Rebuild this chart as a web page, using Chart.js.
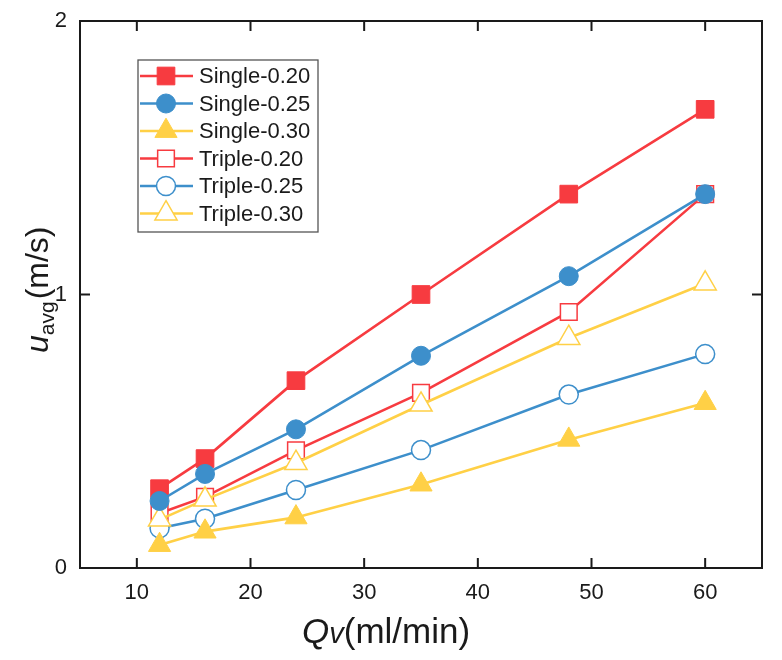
<!DOCTYPE html>
<html>
<head>
<meta charset="utf-8">
<script src="https://cdn.jsdelivr.net/npm/chart.js"></script>
<style>
  body { margin: 0; background: #fff; }
</style>
</head>
<body>
<canvas id="flowChart" width="782" height="660"></canvas>
<script>
const flowRates = [12, 16, 24, 35, 48, 60];
const single020 = [0.29, 0.40, 0.685, 1.00, 1.367, 1.677];
const single025 = [0.245, 0.344, 0.507, 0.776, 1.067, 1.367];
const single030 = [0.084, 0.133, 0.185, 0.305, 0.469, 0.603];
const triple020 = [0.20, 0.26, 0.43, 0.64, 0.936, 1.367];
const triple025 = [0.145, 0.18, 0.285, 0.431, 0.634, 0.782];
const triple030 = [0.177, 0.25, 0.384, 0.597, 0.841, 1.04];
const xTickValues = [10, 20, 30, 40, 50, 60];
const yTickValues = [0, 1, 2];

const RED = "#F73B40";
const BLUE = "#3D8FCB";
const YELLOW = "#FFD046";
const FONT = "'Liberation Sans', Arial, sans-serif";

function makeSeries(label, values, color, shape, hollow, order) {
    const radius = shape === "circle" ? 9.5 : (shape === "rect" ? (hollow ? 11.8 : 12.5) : 12.8);
    return {
        label: label,
        data: flowRates.map((q, i) => ({ x: q, y: values[i] })),
        borderColor: color,
        backgroundColor: color,
        borderWidth: 2.6,
        pointStyle: shape,
        pointRadius: radius,
        pointHoverRadius: radius,
        pointBackgroundColor: hollow ? "#ffffff" : color,
        pointBorderColor: color,
        pointBorderWidth: hollow ? 1.5 : 1,
        tension: 0,
        order: order
    };
}

const datasets = [
    makeSeries("Single-0.20", single020, RED, "rect", false, 3),
    makeSeries("Single-0.25", single025, BLUE, "circle", false, 2),
    makeSeries("Single-0.30", single030, YELLOW, "triangle", false, 1),
    makeSeries("Triple-0.20", triple020, RED, "rect", true, 6),
    makeSeries("Triple-0.25", triple025, BLUE, "circle", true, 5),
    makeSeries("Triple-0.30", triple030, YELLOW, "triangle", true, 4)
];

function drawMarker(ctx, shape, r, x, y) {
    ctx.beginPath();
    if (shape === "rect") {
        const s = Math.SQRT1_2 * r;
        ctx.rect(x - s, y - s, 2 * s, 2 * s);
    } else if (shape === "circle") {
        ctx.arc(x, y, r, 0, Math.PI * 2);
    } else {
        ctx.moveTo(x, y - r);
        ctx.lineTo(x + r * Math.cos(Math.PI / 6), y + r / 2);
        ctx.lineTo(x - r * Math.cos(Math.PI / 6), y + r / 2);
        ctx.closePath();
    }
    ctx.fill();
    ctx.stroke();
}

// frame with inward ticks, axis titles and the boxed legend
const decorations = {
    id: "decorations",
    afterDraw(chart) {
        const { ctx, chartArea: a, scales: { x, y } } = chart;
        ctx.save();
        ctx.strokeStyle = "#1a1a1a";
        ctx.lineWidth = 2;
        ctx.strokeRect(a.left, a.top, a.right - a.left, a.bottom - a.top);
        ctx.beginPath();
        xTickValues.forEach(v => {
            const px = x.getPixelForValue(v);
            ctx.moveTo(px, a.bottom); ctx.lineTo(px, a.bottom - 10);
            ctx.moveTo(px, a.top); ctx.lineTo(px, a.top + 10);
        });
        yTickValues.forEach(v => {
            const py = y.getPixelForValue(v);
            ctx.moveTo(a.left, py); ctx.lineTo(a.left + 10, py);
            ctx.moveTo(a.right, py); ctx.lineTo(a.right - 10, py);
        });
        ctx.stroke();

        // x title: Qv(ml/min)
        ctx.fillStyle = "#1a1a1a";
        ctx.textBaseline = "alphabetic";
        ctx.textAlign = "left";
        let tx = 302;
        const ty = 643;
        ctx.font = "italic 35px " + FONT;
        ctx.fillText("Q", tx, ty);
        tx += ctx.measureText("Q").width;
        ctx.font = "italic 29px " + FONT;
        ctx.fillText("v", tx, ty);
        tx += ctx.measureText("v").width;
        ctx.font = "35px " + FONT;
        ctx.fillText("(ml/min)", tx, ty);

        // y title: u_avg(m/s)
        ctx.save();
        ctx.translate(48, 353);
        ctx.rotate(-Math.PI / 2);
        let ux = 0;
        ctx.font = "italic 32px " + FONT;
        ctx.fillText("u", ux, 0);
        ux += ctx.measureText("u").width;
        ctx.font = "21px " + FONT;
        ctx.fillText("avg", ux, 6);
        ux += ctx.measureText("avg").width + 2;
        ctx.font = "32px " + FONT;
        ctx.fillText("(m/s)", ux, 0);
        ctx.restore();

        // legend
        const box = { left: 138, top: 60, right: 318, bottom: 232 };
        ctx.fillStyle = "#ffffff";
        ctx.fillRect(box.left, box.top, box.right - box.left, box.bottom - box.top);
        ctx.strokeStyle = "#555555";
        ctx.lineWidth = 1.3;
        ctx.strokeRect(box.left, box.top, box.right - box.left, box.bottom - box.top);
        ctx.font = "22px " + FONT;
        ctx.textBaseline = "middle";
        datasets.forEach((ds, i) => {
            const rowY = 76 + i * 27.5;
            ctx.strokeStyle = ds.borderColor;
            ctx.lineWidth = 2.6;
            ctx.beginPath();
            ctx.moveTo(140, rowY); ctx.lineTo(193, rowY);
            ctx.stroke();
            ctx.fillStyle = ds.pointBackgroundColor;
            ctx.lineWidth = ds.pointBorderWidth;
            drawMarker(ctx, ds.pointStyle, ds.pointRadius, 166, rowY);
            ctx.fillStyle = "#1a1a1a";
            ctx.fillText(ds.label, 199, rowY + 1);
        });
        ctx.restore();
    }
};

new Chart(document.getElementById("flowChart"), {
    type: "line",
    data: { datasets: datasets },
    options: {
        responsive: false,
        animation: false,
        devicePixelRatio: 1,
        clip: false,
        layout: { padding: { left: 0, top: 21, right: 20, bottom: 0 } },
        plugins: {
            legend: { display: false },
            tooltip: { enabled: false }
        },
        scales: {
            x: {
                type: "linear",
                min: 5,
                max: 65,
                grid: { display: false, drawTicks: false },
                border: { display: false },
                afterBuildTicks: axis => { axis.ticks = xTickValues.map(v => ({ value: v })); },
                afterFit: axis => { axis.height = 92; axis.paddingLeft = 0; axis.paddingRight = 0; },
                ticks: {
                    padding: 12,
                    maxRotation: 0,
                    color: "#1a1a1a",
                    font: { family: FONT, size: 22 }
                }
            },
            y: {
                type: "linear",
                min: 0,
                max: 2,
                grid: { display: false, drawTicks: false },
                border: { display: false },
                afterBuildTicks: axis => { axis.ticks = yTickValues.map(v => ({ value: v })); },
                afterFit: axis => { axis.width = 80; axis.paddingTop = 0; axis.paddingBottom = 0; },
                ticks: {
                    padding: 13,
                    color: "#1a1a1a",
                    font: { family: FONT, size: 22 }
                }
            }
        }
    },
    plugins: [decorations]
});
</script>
</body>
</html>
